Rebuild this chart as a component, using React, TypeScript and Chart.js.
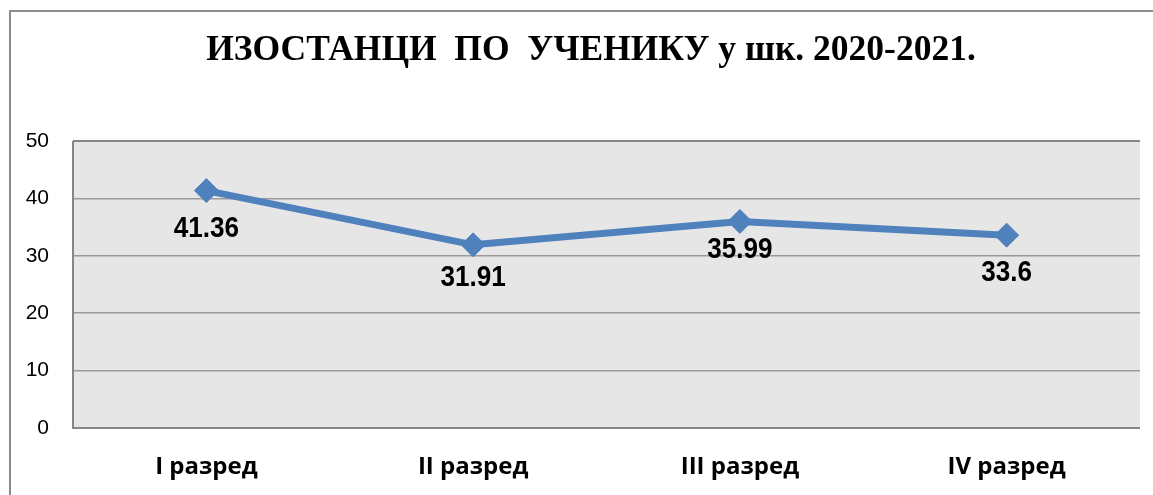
import React, { useEffect, useRef } from "react";
import { Chart, registerables } from "chart.js";

Chart.register(...registerables);

const TITLE = "ИЗОСТАНЦИ  ПО  УЧЕНИКУ у шк. 2020-2021.";
const categories = ["I разред", "II разред", "III разред", "IV разред"];
const absences = [41.36, 31.91, 35.99, 33.6];
const yTicks = [0, 10, 20, 30, 40, 50];
const labelOffsets = [38, 33, 29, 38];

const decorPlugin = {
  id: "decor",
  beforeDraw(chart: any) {
    const { ctx, chartArea } = chart;
    ctx.save();
    ctx.fillStyle = "#ffffff";
    ctx.fillRect(0, 0, chart.width, chart.height);
    ctx.fillStyle = "#e6e6e6";
    ctx.fillRect(chartArea.left, chartArea.top, chartArea.right - chartArea.left, chartArea.bottom - chartArea.top);
    // outer frame
    ctx.strokeStyle = "#8c8c8c";
    ctx.lineWidth = 2;
    ctx.beginPath();
    ctx.moveTo(10, chart.height + 2);
    ctx.lineTo(10, 11);
    ctx.lineTo(chart.width + 2, 11);
    ctx.stroke();
    // title
    ctx.fillStyle = "#000000";
    ctx.font = "bold 35.5px 'Liberation Serif', 'Times New Roman', serif";
    ctx.textAlign = "center";
    ctx.textBaseline = "middle";
    ctx.fillText(TITLE, 591, 51);
    ctx.restore();
  },
  afterDatasetsDraw(chart: any) {
    const { ctx } = chart;
    const meta = chart.getDatasetMeta(0);
    ctx.save();
    ctx.fillStyle = "#000000";
    ctx.font = "bold 29px 'Liberation Sans', Arial, sans-serif";
    ctx.textAlign = "center";
    ctx.textBaseline = "middle";
    meta.data.forEach((pt: any, i: number) => {
      ctx.save();
      ctx.translate(pt.x, pt.y + labelOffsets[i]);
      ctx.scale(0.9, 1);
      ctx.fillText(String(absences[i]), 0, 0);
      ctx.restore();
    });
    ctx.restore();
  },
  afterDraw(chart: any) {
    const { ctx, chartArea } = chart;
    ctx.save();
    ctx.strokeStyle = "#868686";
    ctx.lineWidth = 2;
    ctx.beginPath();
    ctx.moveTo(chartArea.left, chartArea.top);
    ctx.lineTo(chartArea.right, chartArea.top);
    ctx.moveTo(chartArea.left, chartArea.top);
    ctx.lineTo(chartArea.left, chartArea.bottom);
    ctx.lineTo(chartArea.right, chartArea.bottom);
    ctx.stroke();
    ctx.restore();
  },
};

export default function App() {
  const ref = useRef<HTMLCanvasElement>(null);
  useEffect(() => {
    document.body.style.margin = "0";
    const chart = new Chart(ref.current!, {
      type: "line",
      data: {
        labels: categories,
        datasets: [
          {
            data: absences,
            borderColor: "#4f81bd",
            backgroundColor: "#4f81bd",
            borderWidth: 7,
            pointStyle: "rectRot",
            pointRadius: 12,
            pointBackgroundColor: "#4f81bd",
            pointBorderColor: "#4f81bd",
            pointBorderWidth: 1,
            tension: 0,
          },
        ],
      },
      options: {
        responsive: false,
        animation: false,
        layout: { padding: { top: 141, right: 13, left: 0, bottom: 0 } },
        plugins: { legend: { display: false }, tooltip: { enabled: false }, title: { display: false } },
        scales: {
          x: {
            offset: true,
            grid: { display: false, drawTicks: false },
            border: { display: false },
            ticks: {
              color: "#000000",
              padding: 25,
              font: { family: "'Open Sans', sans-serif", size: 24, weight: "bold" },
            },
            afterFit(scale: any) {
              scale.height = 67;
            },
          },
          y: {
            min: 0,
            max: 50,
            afterBuildTicks(scale: any) {
              scale.ticks = yTicks.map((v) => ({ value: v }));
            },
            grid: { color: "#9a9a9a", lineWidth: 1.5, drawTicks: false },
            border: { display: false },
            ticks: {
              color: "#000000",
              padding: 24,
              font: { family: "'Liberation Sans', Arial, sans-serif", size: 21 },
            },
            afterFit(scale: any) {
              scale.width = 73;
            },
          },
        },
      },
      plugins: [decorPlugin],
    });
    return () => chart.destroy();
  }, []);
  return (
    <div style={{ position: "absolute", left: 0, top: 0, width: 1153, height: 495 }}>
      <canvas ref={ref} width={1153} height={495} style={{ display: "block" }} />
    </div>
  );
}
